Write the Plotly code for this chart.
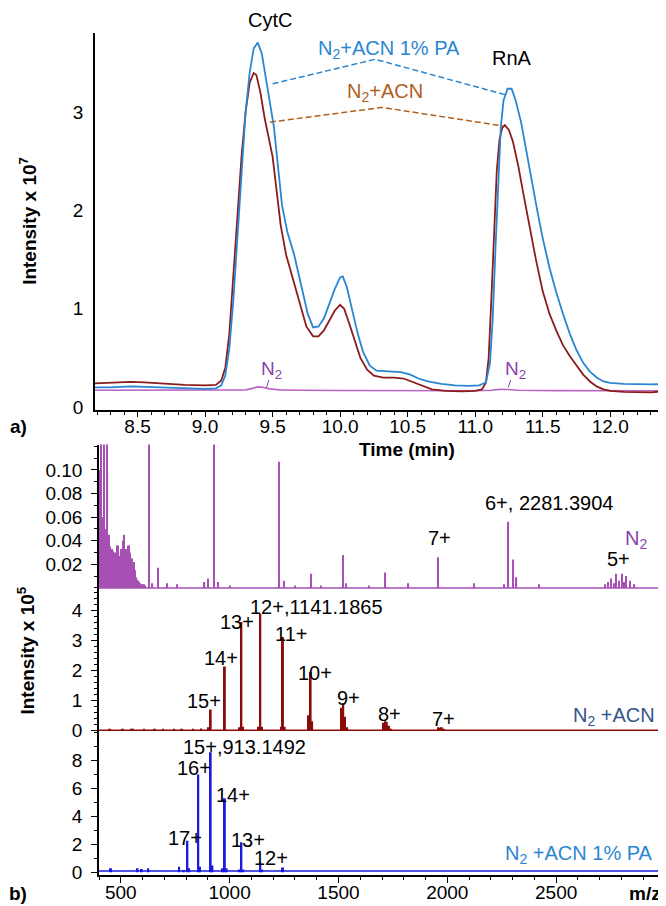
import plotly.graph_objects as go

W, H = 666, 906

# ---------------- (a) chromatograms : time (min) vs intensity (x 1e7) ----------------
time_acn = [8.18, 8.30, 8.45, 8.55, 8.70, 8.85, 9.00, 9.08, 9.12, 9.15, 9.18, 9.21, 9.24, 9.27,
            9.30, 9.33, 9.36, 9.38, 9.41, 9.44, 9.47, 9.50, 9.53, 9.56, 9.60, 9.65, 9.70, 9.75,
            9.80, 9.84, 9.88, 9.92, 9.96, 10.00, 10.03, 10.07, 10.11, 10.15, 10.20, 10.25, 10.32,
            10.40, 10.47, 10.53, 10.60, 10.68, 10.78, 10.90, 11.00, 11.05, 11.08, 11.10, 11.12,
            11.14, 11.16, 11.18, 11.20, 11.22, 11.25, 11.28, 11.32, 11.36, 11.40, 11.45, 11.50,
            11.55, 11.60, 11.65, 11.70, 11.75, 11.80, 11.85, 11.90, 11.95, 12.00, 12.10, 12.20,
            12.30, 12.40, 12.46]
int_acn = [0.24, 0.245, 0.255, 0.25, 0.235, 0.225, 0.22, 0.225, 0.27, 0.40, 0.75, 1.30, 1.95, 2.55,
           3.00, 3.30, 3.40, 3.38, 3.20, 2.95, 2.75, 2.55, 2.20, 1.85, 1.55, 1.30, 1.05, 0.82,
           0.72, 0.72, 0.78, 0.88, 0.98, 1.04, 1.00, 0.84, 0.66, 0.50, 0.38, 0.32, 0.30,
           0.30, 0.29, 0.26, 0.22, 0.18, 0.165, 0.16, 0.165, 0.18, 0.25, 0.50, 1.10,
           1.80, 2.40, 2.72, 2.84, 2.87, 2.82, 2.70, 2.45, 2.15, 1.85, 1.50, 1.18,
           0.95, 0.78, 0.63, 0.52, 0.42, 0.33, 0.26, 0.21, 0.18, 0.165, 0.155, 0.15,
           0.15, 0.16, 0.17]

time_pa = [8.18, 8.30, 8.45, 8.55, 8.70, 8.85, 9.00, 9.08, 9.12, 9.15, 9.18, 9.21, 9.24, 9.27,
           9.30, 9.33, 9.36, 9.39, 9.42, 9.45, 9.48, 9.51, 9.54, 9.57, 9.61, 9.66, 9.71, 9.76,
           9.80, 9.84, 9.88, 9.92, 9.96, 10.00, 10.02, 10.05, 10.09, 10.13, 10.17, 10.22, 10.27,
           10.35, 10.45, 10.52, 10.58, 10.65, 10.75, 10.85, 10.95, 11.03, 11.08, 11.11, 11.13,
           11.15, 11.17, 11.19, 11.21, 11.24, 11.27, 11.30, 11.34, 11.38, 11.42, 11.46, 11.50,
           11.55, 11.60, 11.65, 11.70, 11.75, 11.80, 11.85, 11.90, 11.95, 12.00, 12.10, 12.20,
           12.30, 12.46]
int_pa = [0.20, 0.20, 0.21, 0.205, 0.195, 0.185, 0.185, 0.19, 0.22, 0.32, 0.60, 1.10, 1.75, 2.45,
          3.00, 3.40, 3.65, 3.71, 3.60, 3.35, 3.10, 2.85, 2.45, 2.05, 1.78, 1.55, 1.25, 0.95,
          0.81, 0.82, 0.90, 1.05, 1.20, 1.32, 1.33, 1.22, 0.98, 0.75, 0.56, 0.42, 0.37,
          0.36, 0.355, 0.33, 0.29, 0.26, 0.235, 0.22, 0.215, 0.22, 0.25, 0.45, 0.90,
          1.60, 2.30, 2.85, 3.12, 3.24, 3.24, 3.12, 2.90, 2.62, 2.30, 2.00, 1.72,
          1.42, 1.17, 0.95, 0.75, 0.58, 0.45, 0.36, 0.30, 0.26, 0.245, 0.235, 0.23,
          0.23, 0.235]

time_n2 = [8.18, 8.60, 9.00, 9.20, 9.30, 9.35, 9.39, 9.43, 9.48, 9.55, 9.70, 10.00, 10.50,
           11.00, 11.12, 11.18, 11.24, 11.32, 11.60, 12.00, 12.46]
int_n2 = [0.17, 0.17, 0.17, 0.17, 0.175, 0.19, 0.205, 0.20, 0.185, 0.175, 0.17, 0.168, 0.165,
          0.165, 0.17, 0.18, 0.178, 0.17, 0.167, 0.165, 0.165]

# apex-to-apex dashed guide lines
link_pa_t = [9.50, 10.26, 11.22]
link_pa_i = [3.29, 3.54, 3.18]
link_acn_t = [9.48, 10.31, 11.21]
link_acn_i = [2.90, 3.05, 2.86]

# ---------------- (b) mass spectra : m/z vs intensity (x 1e5) ----------------
mz_n2 = [402, 406, 410, 414, 418, 422, 426, 430, 434, 438, 442, 446, 450, 454, 458, 462, 466,
         470, 474, 478, 482, 486, 490, 494, 498, 502, 506, 510, 514, 518, 522, 526, 530, 534,
         538, 542, 546, 550, 554, 558, 562, 566, 570, 574, 578, 582, 586, 590, 596, 602, 608,
         614, 628, 646, 671, 712, 760, 885, 901, 927, 947, 1000, 1225, 1248, 1300, 1374, 1420,
         1522, 1534, 1640, 1712, 1822, 1956, 2123, 2260, 2281, 2300, 2318, 2421,
         2724, 2740, 2752, 2764, 2776, 2790, 2801, 2812, 2821, 2841, 2860]
i_n2 = [0.10, 0.07, 0.20, 0.06, 0.05, 0.20, 0.05, 0.04, 0.045, 0.20, 0.04, 0.045, 0.035, 0.03,
        0.028, 0.033, 0.031, 0.025, 0.03, 0.028, 0.036, 0.036, 0.03, 0.027, 0.027, 0.033, 0.03,
        0.04, 0.045, 0.03, 0.029, 0.033, 0.03, 0.036, 0.036, 0.03, 0.025, 0.025, 0.02, 0.02,
        0.022, 0.015, 0.009, 0.007, 0.006, 0.005, 0.005, 0.004, 0.003, 0.003, 0.003, 0.002,
        0.30, 0.004, 0.017, 0.004, 0.003, 0.005, 0.008, 0.30, 0.005, 0.002, 0.107, 0.006,
        0.002, 0.012, 0.002, 0.028, 0.004, 0.002, 0.013, 0.004, 0.026, 0.004, 0.003, 0.056,
        0.024, 0.009, 0.003, 0.003, 0.005, 0.008, 0.004, 0.012, 0.006, 0.012, 0.005, 0.010,
        0.006, 0.003]

mz_acn = [450, 510, 547, 556, 607, 657, 694, 745, 781, 832, 869, 905, 913, 978, 1046, 1054,
          1062, 1133, 1141, 1149, 1237, 1245, 1253, 1364, 1372, 1379, 1516, 1522, 1530, 1540,
          1706, 1714, 1722, 1732, 1742, 1958, 1966, 1975, 1985]
i_acn = [0.03, 0.03, 0.04, 0.04, 0.03, 0.04, 0.05, 0.05, 0.04, 0.05, 0.06, 0.10, 0.69, 2.13,
         0.10, 3.61, 0.12, 0.12, 3.89, 0.12, 0.12, 3.11, 0.12, 0.50, 1.94, 0.30, 0.75, 0.89,
         0.45, 0.10, 0.25, 0.30, 0.28, 0.15, 0.05, 0.10, 0.08, 0.10, 0.05]

mz_pa = [455, 577, 596, 626, 768, 790, 806, 814, 856, 864, 913, 921, 968, 978, 986, 1046,
         1054, 1062, 1141, 1149, 1245]
i_pa = [0.30, 0.30, 0.25, 0.30, 0.40, 0.15, 2.27, 0.30, 7.00, 0.40, 8.60, 0.50, 0.30, 5.30,
        0.30, 0.20, 2.15, 0.20, 0.70, 0.20, 0.35]

baseline_n2 = 0.0
baseline_acn = 0.0
baseline_pa = 0.1
mz_span = [400, 3000]

# ---------------- styling ----------------
FONT = "Arial, Liberation Sans, sans-serif"
C_PA = "#2a86d1"
C_ACN = "#8c1c1c"
C_N2 = "#b966c4"
C_N2_TXT = "#8a3fb0"
C_BROWN = "#b0601e"
S_N2 = "#a650b4"
S_ACN = "#8b0a0a"
S_PA = "#1a1ae0"
LBL_ACN = "#34558b"

fig = go.Figure()

# top chromatograms
fig.add_trace(go.Scatter(x=time_n2, y=int_n2, mode="lines", line=dict(color=C_N2, width=1.6),
                         xaxis="x", yaxis="y", hoverinfo="skip"))
fig.add_trace(go.Scatter(x=time_acn, y=int_acn, mode="lines", line=dict(color=C_ACN, width=1.8),
                         xaxis="x", yaxis="y"))
fig.add_trace(go.Scatter(x=time_pa, y=int_pa, mode="lines", line=dict(color=C_PA, width=1.8),
                         xaxis="x", yaxis="y"))
fig.add_trace(go.Scatter(x=link_pa_t, y=link_pa_i, mode="lines",
                         line=dict(color=C_PA, width=1.5, dash="6px,3px"), xaxis="x", yaxis="y"))
fig.add_trace(go.Scatter(x=link_acn_t, y=link_acn_i, mode="lines",
                         line=dict(color=C_BROWN, width=1.5, dash="6px,3px"), xaxis="x", yaxis="y"))

# spectra
fig.add_trace(go.Scatter(x=mz_span, y=[baseline_n2] * 2, mode="lines",
                         line=dict(color=S_N2, width=1.5), xaxis="x2", yaxis="y2"))
fig.add_trace(go.Bar(x=mz_n2, y=i_n2, width=5.5, marker=dict(color=S_N2, line=dict(width=0)),
                     xaxis="x2", yaxis="y2"))
fig.add_trace(go.Scatter(x=mz_span, y=[baseline_acn] * 2, mode="lines",
                         line=dict(color=S_ACN, width=1.5), xaxis="x2", yaxis="y3"))
fig.add_trace(go.Bar(x=mz_acn, y=i_acn, width=9, marker=dict(color=S_ACN, line=dict(width=0)),
                     xaxis="x2", yaxis="y3"))
fig.add_trace(go.Scatter(x=mz_span, y=[baseline_pa] * 2, mode="lines",
                         line=dict(color=S_PA, width=1.5), xaxis="x2", yaxis="y4"))
fig.add_trace(go.Bar(x=mz_pa, y=i_pa, width=9, marker=dict(color=S_PA, line=dict(width=0)),
                     xaxis="x2", yaxis="y4"))


def pp(x, y):
    return x / W, 1 - y / H


axis_common = dict(showgrid=False, zeroline=False, showline=True, linecolor="black",
                   linewidth=1.5, tickfont=dict(family=FONT, size=19, color="black"),
                   tickcolor="black", tickwidth=1)

fig.update_layout(
    width=W, height=H, margin=dict(l=0, r=0, t=0, b=0),
    paper_bgcolor="white", plot_bgcolor="white", showlegend=False, barmode="overlay",
    font=dict(family=FONT, size=19, color="black"),
    xaxis=dict(domain=[87 / W, 665 / W], range=[8.185, 12.465], anchor="y",
               tickvals=[8.5, 9.0, 9.5, 10.0, 10.5, 11.0, 11.5, 12.0], tickformat=".1f",
               ticks="outside", ticklen=5, ticklabelstandoff=-7,
               minor=dict(dtick=0.1, tick0=8.0, ticks="outside", ticklen=3, tickcolor="black"),
               **axis_common),
    yaxis=dict(domain=[1 - 406 / H, 1 - 25 / H], range=[-0.03, 3.81], anchor="x",
               tickvals=[0, 1, 2, 3], ticks="", ticklabelstandoff=6, **axis_common),
    xaxis2=dict(domain=[91 / W, 657 / W], range=mz_span, anchor="y4",
                tickvals=[500, 1000, 1500, 2000, 2500], ticks="outside", ticklen=6,
                ticklabelstandoff=-7,
                minor=dict(dtick=100, tick0=0, ticks="outside", ticklen=3, tickcolor="black"),
                **axis_common),
    yaxis2=dict(domain=[1 - 587.5 / H, 1 - 441 / H], range=[-0.0015, 0.1215], anchor="x2",
                tickvals=[0.02, 0.04, 0.06, 0.08, 0.10], tickformat=".2f", ticks="outside",
                ticklen=6, ticklabelstandoff=5,
                minor=dict(dtick=0.01, tick0=0, ticks="outside", ticklen=3, tickcolor="black"),
                **axis_common),
    yaxis3=dict(domain=[1 - 731 / H, 1 - 587.5 / H], range=[-0.05, 4.69], anchor="x2",
                tickvals=[0, 1, 2, 3, 4], ticks="outside", ticklen=6, ticklabelstandoff=5,
                minor=dict(dtick=0.2, tick0=0, ticks="outside", ticklen=3, tickcolor="black"),
                **axis_common),
    yaxis4=dict(domain=[1 - 876 / H, 1 - 731 / H], range=[-0.21, 10.07], anchor="x2",
                tickvals=[0, 2, 4, 6, 8], ticks="outside", ticklen=6, ticklabelstandoff=5,
                minor=dict(dtick=1, tick0=0, ticks="outside", ticklen=3, tickcolor="black"),
                **axis_common),
)

ann = []


def text(x, y, s, color="black", size=20, bold=False, angle=0):
    px_, py_ = pp(x, y)
    ann.append(dict(x=px_, y=py_, xref="paper", yref="paper", text=("<b>%s</b>" % s) if bold else s,
                    showarrow=False, xanchor="center", yanchor="middle", textangle=angle,
                    font=dict(family=FONT, size=size, color=color)))


# panel (a) texts
text(262, 12, "CytC")
text(381, 42, "N<sub>2</sub>+ACN 1% PA", color=C_PA)
text(504, 50, "RnA")
text(377, 85, "N<sub>2</sub>+ACN", color=C_BROWN)
text(263, 366, "N<sub>2</sub>", color=C_N2_TXT, size=19)
text(507, 366, "N<sub>2</sub>", color=C_N2_TXT, size=19)
text(20, 215, "Intensity x 10<sup>7</sup>", bold=True, size=19, angle=-90)
text(10, 423, "a)", bold=True, size=19)
text(399, 446, "Time (min)", bold=True, size=19)

# pointer ticks from the N2 labels to the N2 trace
for tx in (9.455, 11.245):
    ann.append(dict(x=tx, y=0.2, xref="x", yref="y", ax=3, ay=-9, axref="pixel", ayref="pixel",
                    text="", showarrow=True, arrowhead=0, arrowwidth=1, arrowcolor=C_N2_TXT))

# panel (b) texts
text(541, 500, "6+, 2281.3904")
text(431, 535, "7+")
text(610, 557, "5+")
text(628, 537, "N<sub>2</sub>", color=C_N2_TXT)
text(308, 605, "12+,1141.1865")
text(229, 620, "13+")
text(283, 632, "11+")
text(213, 657, "14+")
text(307, 672, "10+")
text(196, 700, "15+")
text(340, 697, "9+")
text(382, 713, "8+")
text(435, 718, "7+")
text(606, 716, "N<sub>2</sub> +ACN", color=LBL_ACN)
text(237, 746, "15+,913.1492")
text(186, 768, "16+")
text(225, 795, "14+")
text(177, 838, "17+")
text(240, 840, "13+")
text(263, 859, "12+")
text(571, 855, "N<sub>2</sub> +ACN 1% PA", color=C_PA)
text(18, 649, "Intensity x 10<sup>5</sup>", bold=True, size=19, angle=-90)
text(10, 894, "b)", bold=True, size=19)
text(637, 894, "m/z", bold=True, size=19)

fig.update_layout(annotations=ann)
fig.write_html("out.html")
